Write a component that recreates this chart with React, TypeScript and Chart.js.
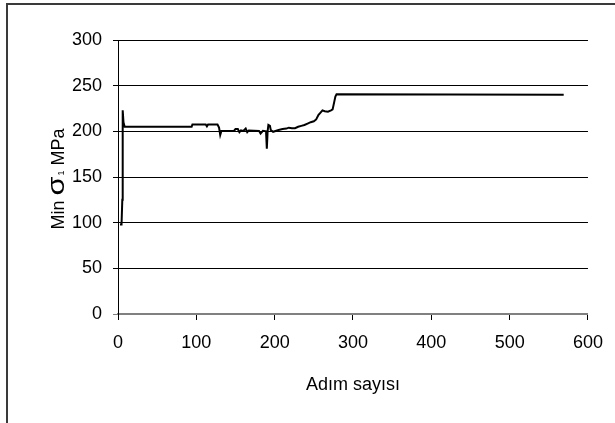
import React, { useEffect, useRef } from "react";
import { Chart, registerables } from "chart.js";
Chart.register(...registerables);

// Step numbers (Adım sayısı)
const stepX = [
  2.5, 4.5, 5.5, 6, 7, 8.5, 94, 95, 112, 113.5, 115, 127, 129, 130.5, 132, 148,
  150, 153, 155, 157, 160, 163, 165, 167, 180, 182, 185, 189, 190, 191, 192,
  194, 195, 198, 205, 210, 215, 218, 222, 226, 230, 234, 238, 242, 246, 250,
  253, 256, 258, 261, 264, 268, 272, 274, 276, 277.5, 279, 569,
];
// Min sigma1 (MPa)
const sigmaY = [
  98, 98, 125, 223, 210, 205, 205, 207.5, 207.5, 205.5, 207.5, 207.5, 204, 196,
  200.5, 200.5, 202.5, 202.5, 199, 201, 200.5, 203, 199, 201, 200.5, 197.5,
  200.5, 200, 181, 200, 207, 206, 201.5, 199.5, 201.5, 202.5, 203, 204, 203.5,
  203.5, 205, 206, 207, 208.5, 210, 211, 213, 218, 220, 223, 222, 221.5, 223,
  224, 232, 238, 240.5, 240,
];
const xTicks = [0, 100, 200, 300, 400, 500, 600];
const yTicks = [0, 50, 100, 150, 200, 250, 300];
const xTitle = "Adım sayısı";
const yTitleParts = ["Min ", "σ", "1", " MPa"];

const FONT = '"Liberation Sans", Arial, sans-serif';

export default function App() {
  const ref = useRef<HTMLCanvasElement>(null);
  useEffect(() => {
    const canvas = ref.current;
    if (!canvas) return;
    const titlePlugin = {
      id: "customTitles",
      afterDraw(chart: any) {
        const c = chart.ctx as CanvasRenderingContext2D;
        const area = chart.chartArea;
        c.save();
        c.fillStyle = "#000";
        c.font = `18px ${FONT}`;
        c.textAlign = "center";
        c.textBaseline = "alphabetic";
        c.fillText(xTitle, (area.left + area.right) / 2, 390);

        // y title (rotated)
        const big = `18px ${FONT}`;
        const sig = `24px ${FONT}`;
        const small = `9px ${FONT}`;
        c.font = big;
        const w0 = c.measureText(yTitleParts[0]).width;
        const w3 = c.measureText(yTitleParts[3]).width;
        c.font = sig;
        const ws = c.measureText(yTitleParts[1]).width;
        const sigScale = 19 / ws;
        const wsS = 20;
        c.font = small;
        const w2 = c.measureText(yTitleParts[2]).width;
        const total = w0 + wsS + w2 + w3;
        const cy = (area.top + area.bottom) / 2 + 2;
        c.translate(64, cy);
        c.rotate(-Math.PI / 2);
        c.textAlign = "left";
        let x = -total / 2;
        c.font = big;
        c.fillText(yTitleParts[0], x, 0);
        x += w0;
        c.save();
        c.font = sig;
        c.translate(x, 0);
        c.scale(sigScale, 1);
        c.fillText(yTitleParts[1], 0, 0);
        c.restore();
        x += wsS;
        c.font = small;
        c.fillText(yTitleParts[2], x, 0);
        x += w2;
        c.font = big;
        c.fillText(yTitleParts[3], x, 0);
        c.restore();
      },
    };
    const chart = new Chart(canvas, {
      type: "line",
      data: {
        datasets: [
          {
            data: stepX.map((x, i) => ({ x, y: sigmaY[i] })),
            borderColor: "#000",
            borderWidth: 2,
            pointRadius: 0,
            tension: 0,
            fill: false,
          },
        ],
      },
      options: {
        responsive: false,
        maintainAspectRatio: false,
        animation: false,
        layout: { padding: { top: 40, right: 22, left: 0, bottom: 0 } },
        plugins: { legend: { display: false }, tooltip: { enabled: false } },
        scales: {
          x: {
            type: "linear",
            min: 0,
            max: 600,
            afterBuildTicks: (s: any) => {
              s.ticks = xTicks.map((v) => ({ value: v }));
            },
            ticks: {
              color: "#000",
              font: { family: FONT, size: 18 },
              padding: 12,
              maxRotation: 0,
            },
            grid: { drawOnChartArea: false, color: "#000", tickLength: 6 },
            border: { color: "#808080", width: 2 },
            afterFit: (s: any) => {
              s.height = 109;
            },
          },
          y: {
            type: "linear",
            min: 0,
            max: 300,
            afterBuildTicks: (s: any) => {
              s.ticks = yTicks.map((v) => ({ value: v }));
            },
            ticks: {
              color: "#000",
              font: { family: FONT, size: 18 },
              padding: 11,
            },
            grid: {
              color: (ctx: any) => (ctx.tick && ctx.tick.value === 0 ? "#808080" : "#000"),
              tickLength: 5,
            },
            border: { color: "#000", width: 1 },
            afterFit: (s: any) => {
              s.width = 118;
            },
          },
        },
      },
      plugins: [titlePlugin],
    } as any);
    return () => chart.destroy();
  }, []);
  return (
    <div
      style={{
        position: "fixed",
        left: 0,
        top: 0,
        width: 615,
        height: 423,
        background: "#fff",
        overflow: "hidden",
      }}
    >
      <canvas ref={ref} width={615} height={423} style={{ display: "block", width: 615, height: 423 }} />
      <div
        style={{
          position: "absolute",
          left: 6,
          top: 3,
          width: 700,
          height: 500,
          borderTop: "2px solid #3a3a3a",
          borderLeft: "2px solid #3a3a3a",
          pointerEvents: "none",
        }}
      />
    </div>
  );
}
